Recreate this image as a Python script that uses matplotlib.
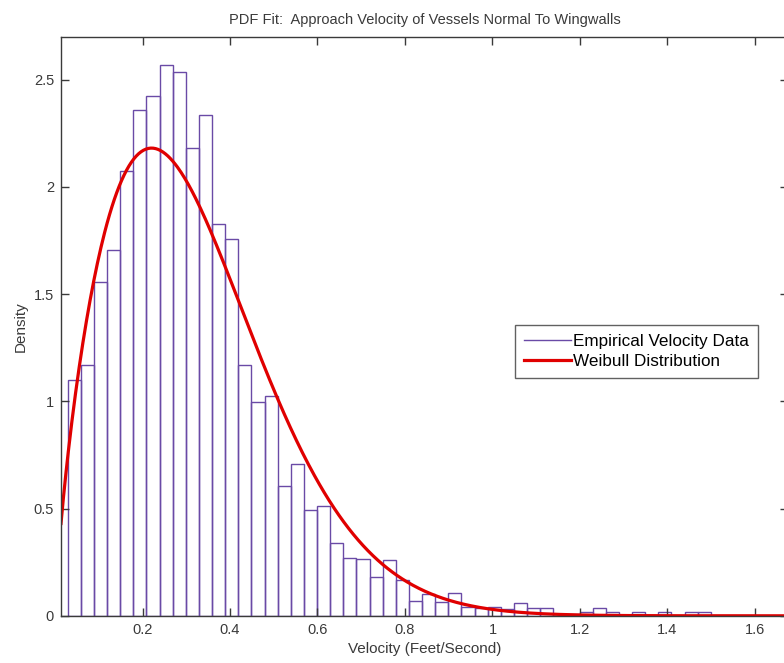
import numpy as np
import matplotlib.pyplot as plt
from matplotlib.lines import Line2D

# histogram of approach velocities (density per bin)
bin_start = 0.029
bin_width = 0.03
density = [1.100, 1.170, 1.554, 1.705, 2.073, 2.360, 2.422, 2.568, 2.537, 2.182,
           2.334, 1.828, 1.756, 1.170, 0.999, 1.026, 0.605, 0.709, 0.491, 0.511,
           0.340, 0.270, 0.263, 0.182, 0.261, 0.167, 0.069, 0.103, 0.066, 0.105,
           0.042, 0.038, 0.042, 0.030, 0.061, 0.038, 0.038, 0.010, 0.010, 0.019,
           0.038, 0.019, 0.000, 0.019, 0.000, 0.019, 0.000, 0.019, 0.019]

# fitted weibull parameters
wb_shape = 1.735
wb_scale = 0.362

x_min, x_max = 0.0137, 1.675

purple = '#6a4aa6'
axcol = '#3a3a3a'

plt.rcParams['font.family'] = ['Liberation Sans', 'DejaVu Sans']

fig = plt.figure(figsize=(7.84, 6.63), dpi=100)
ax = fig.add_axes([61/784, 47.2/663, (787.8-61)/784, 579.1/663])

edges = bin_start + bin_width*np.arange(len(density))
ax.bar(edges, density, width=bin_width, align='edge', fill=False,
       edgecolor=purple, linewidth=1.0)

xs = np.linspace(x_min, x_max, 600)
z = xs/wb_scale
pdf = (wb_shape/wb_scale) * z**(wb_shape-1) * np.exp(-z**wb_shape)
ax.plot(xs, pdf, color='#e00000', linewidth=2.3)

ax.set_xlim(x_min, x_max)
ax.set_ylim(0, 2.7)
ax.set_xticks([0.2, 0.4, 0.6, 0.8, 1, 1.2, 1.4, 1.6])
ax.set_xticklabels(['0.2', '0.4', '0.6', '0.8', '1', '1.2', '1.4', '1.6'])
ax.set_yticks([0, 0.5, 1, 1.5, 2, 2.5])
ax.set_yticklabels(['0', '0.5', '1', '1.5', '2', '2.5'])
ax.tick_params(direction='in', top=True, right=True, length=6, width=1,
               color=axcol, labelcolor=axcol, labelsize=10.5, pad=5)
for s in ax.spines.values():
    s.set_color(axcol)
    s.set_linewidth(1.0)

ax.set_title('PDF Fit:  Approach Velocity of Vessels Normal To Wingwalls',
             fontsize=10.5, color=axcol, pad=9)
ax.set_xlabel('Velocity (Feet/Second)', fontsize=11, color=axcol, labelpad=4)
ax.set_ylabel('Density', fontsize=11, color=axcol, labelpad=4)

handles = [Line2D([], [], color=purple, linewidth=1.0),
           Line2D([], [], color='#e00000', linewidth=2.3)]
leg = ax.legend(handles, ['Empirical Velocity Data', 'Weibull Distribution'],
                loc='upper left', bbox_to_anchor=(515/784, 1-325/663),
                bbox_transform=fig.transFigure, borderaxespad=0,
                fancybox=False, edgecolor=axcol, fontsize=12.3,
                handlelength=2.7, handletextpad=0.15, borderpad=0.55,
                labelspacing=0.25)
leg.get_frame().set_linewidth(1.0)

fig.savefig('out.png', dpi=100)
